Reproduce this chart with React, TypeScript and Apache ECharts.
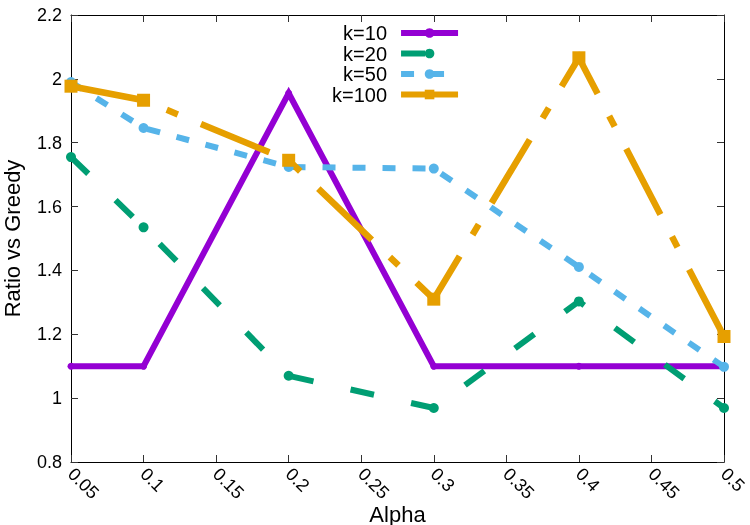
import React, { useEffect, useRef } from "react";
import * as echarts from "echarts";

// Alpha values at which each run was measured
const alpha = [0.05, 0.1, 0.2, 0.3, 0.4, 0.5];

// Ratio vs Greedy for each k
const seriesNames = ["k=10", "k=20", "k=50", "k=100"];
const k10 = [1.1, 1.1, 1.955, 1.1, 1.1, 1.1];
const k20 = [1.755, 1.535, 1.07, 0.969, 1.303, 0.969];
const k50 = [1.99, 1.846, 1.724, 1.719, 1.411, 1.098];
const k100 = [1.977, 1.933, 1.745, 1.31, 2.066, 1.193];

// Axis ticks
const xTicks = [0.05, 0.1, 0.15, 0.2, 0.25, 0.3, 0.35, 0.4, 0.45, 0.5];
const yTicks = [0.8, 1, 1.2, 1.4, 1.6, 1.8, 2, 2.2];

const FONT = "'Liberation Sans', Arial, Helvetica, sans-serif";

const fmt = (v: number) => String(Number(v.toFixed(2)));

const pairs = (ys: number[]) => alpha.map((x, i) => [x, ys[i]]);

export default function App() {
  const ref = useRef<HTMLDivElement>(null);

  useEffect(() => {
    if (!ref.current) return;
    const chart = echarts.init(ref.current, null, { renderer: "svg" });

    const xStep = Number((xTicks[1] - xTicks[0]).toFixed(4));
    const yStep = Number((yTicks[1] - yTicks[0]).toFixed(4));
    const tick = { show: true, inside: true, length: 7, lineStyle: { color: "#333", width: 1 } };
    const frame = { show: true, onZero: false, lineStyle: { color: "#000", width: 1 } };

    const baseX = {
      type: "value" as const,
      min: xTicks[0],
      max: xTicks[xTicks.length - 1],
      interval: xStep,
      splitLine: { show: false },
      axisTick: tick,
      axisLine: frame,
    };
    const baseY = {
      type: "value" as const,
      min: yTicks[0],
      max: yTicks[yTicks.length - 1],
      interval: yStep,
      splitLine: { show: false },
      axisTick: tick,
      axisLine: frame,
    };

    const mkLine = (
      name: string,
      ys: number[],
      color: string,
      width: number,
      dash: number[] | "solid",
      symbol: string,
      symbolSize: number
    ) => ({
      name,
      type: "line" as const,
      data: pairs(ys),
      symbol,
      symbolSize,
      showSymbol: true,
      itemStyle: { color, borderWidth: 0 },
      lineStyle: { color, width, type: dash, join: "miter", cap: "butt" },
      emphasis: { disabled: true },
    });

    chart.setOption({
      animation: false,
      textStyle: { fontFamily: FONT },
      grid: {
        left: 71,
        right: 26,
        top: 15,
        bottom: 63,
        containLabel: false,
        outerBoundsMode: "none",
      },
      legend: {
        orient: "vertical",
        align: "right",
        left: 327,
        top: 18,
        itemWidth: 57,
        itemHeight: 12,
        itemGap: 0.5,
        selectedMode: false,
        data: seriesNames,
        lineStyle: { width: 6 },
        textStyle: {
          fontSize: 20,
          lineHeight: 20,
          color: "#000",
          fontFamily: FONT,
          padding: [0, 9, 0, 0],
        },
      },
      xAxis: [
        {
          ...baseX,
          position: "bottom",
          name: "Alpha",
          nameLocation: "middle",
          nameGap: 41,
          nameMoveOverlap: false,
          nameTextStyle: { fontSize: 22, color: "#000", fontFamily: FONT },
          axisLabel: {
            rotate: -45,
            margin: 9,
            fontSize: 18,
            color: "#000",
            fontFamily: FONT,
            showMinLabel: true,
            showMaxLabel: true,
            formatter: fmt,
          },
        },
        {
          ...baseX,
          position: "top",
          axisLabel: { show: false },
        },
      ],
      yAxis: [
        {
          ...baseY,
          position: "left",
          name: "Ratio vs Greedy",
          nameLocation: "middle",
          nameGap: 48,
          nameMoveOverlap: false,
          nameTextStyle: { fontSize: 22, color: "#000", fontFamily: FONT },
          axisLabel: {
            margin: 9,
            fontSize: 18,
            color: "#000",
            fontFamily: FONT,
            formatter: fmt,
          },
        },
        {
          ...baseY,
          position: "right",
          axisLabel: { show: false },
        },
      ],
      series: [
        mkLine(seriesNames[0], k10, "#9400d3", 6, "solid", "circle", 7),
        mkLine(seriesNames[1], k20, "#009e73", 6, [24, 38], "circle", 10),
        mkLine(seriesNames[2], k50, "#56b4e9", 6, [13, 17], "circle", 10),
        mkLine(seriesNames[3], k100, "#e69f00", 6.5, [74, 25, 12, 25], "rect", 13),
      ],
    });

    return () => chart.dispose();
  }, []);

  return (
    <div
      ref={ref}
      style={{ position: "fixed", left: 0, top: 0, width: 750, height: 525 }}
    />
  );
}
